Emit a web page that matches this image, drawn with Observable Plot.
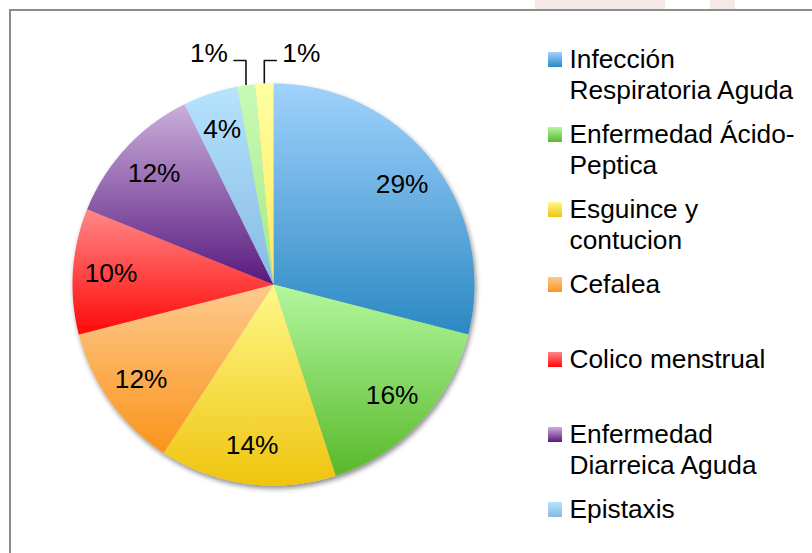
<!DOCTYPE html>
<html><head><meta charset="utf-8">
<script src="https://cdn.jsdelivr.net/npm/d3@7"></script>
<script src="https://cdn.jsdelivr.net/npm/@observablehq/plot@0.6"></script>
<style>
html,body{margin:0;padding:0;background:#fff;}
#wrap{position:relative;width:812px;height:553px;overflow:hidden;background:#fff;}
.wm{position:absolute;top:0;height:9px;background:#f7e8e8;}
#frame{position:absolute;left:9px;top:9px;width:1000px;height:1000px;border-left:2px solid #8c8c8c;border-top:2px solid #8c8c8c;}
#chart{position:absolute;left:0;top:0;}
</style></head><body>
<div id="wrap">
  <div class="wm" style="left:535px;width:130px"></div>
  <div class="wm" style="left:710px;width:25px"></div>
  <div id="frame"></div>
  <div id="chart"></div>
</div>
<script>
// ---- data ----
const categories = ["Infección Respiratoria Aguda","Enfermedad Ácido-Peptica","Esguince y contucion","Cefalea","Colico menstrual","Enfermedad Diarreica Aguda","Epistaxis","Otros","Otros (2)"];
const values = [29.0, 16.0, 14.2, 11.8, 10.1, 11.6, 4.4, 1.45, 1.45];
const legendLabels = ["Infección\nRespiratoria Aguda","Enfermedad Ácido-\nPeptica","Esguince y\ncontucion","Cefalea","Colico menstrual","Enfermedad\nDiarreica Aguda","Epistaxis"];

// ---- styles ----
const gradientColors = [
  ["#a0d2fc","#2b88c3"],
  ["#b2f89e","#59b82a"],
  ["#fff88a","#efc40e"],
  ["#fdca8e","#fb931c"],
  ["#ff8888","#ff0808"],
  ["#cbaedb","#58197e"],
  ["#b6e4fd","#86b9e4"],
  ["#c9fab6","#a3ea88"],
  ["#ffffa0","#ffe95e"]
];

// ---- layout ----
const W = 812, H = 553;
const cx = 273, cy = 284, R = 201;
const fontSize = 26.3;

const total = d3.sum(values);
const arcs = d3.pie().sort(null).value(d => d)(values);

const slicePts = arcs.flatMap((a, i) => {
  const name = categories[i];
  const n = Math.max(2, Math.ceil((a.endAngle - a.startAngle) / 0.008));
  const pts = [{name, x: cx, y: cy}];
  for (let k = 0; k <= n; ++k) {
    const ang = a.startAngle + (a.endAngle - a.startAngle) * k / n;
    pts.push({name, x: cx + R * Math.sin(ang), y: cy - R * Math.cos(ang)});
  }
  pts.push({name, x: cx, y: cy});
  return pts;
});

const pct = v => Math.round(v / total * 100) + "%";

const inside = [], outsideLabels = [], leaders = [];
let outIdx = 0;
arcs.forEach((a, i) => {
  const mid = (a.startAngle + a.endAngle) / 2;
  const share = values[i] / total;
  if (share >= 0.03) {
    inside.push({x: cx + 0.81 * R * Math.sin(mid), y: cy - 0.81 * R * Math.cos(mid), text: pct(values[i])});
  } else {
    const side = outIdx % 2 === 0 ? -1 : 1;
    outIdx++;
    const p0 = {x: cx + (R + 1) * Math.sin(mid), y: cy - (R + 1) * Math.cos(mid)};
    const ey = cy - R - 23;
    const p1 = {x: p0.x, y: ey};
    const p2 = {x: p0.x + side * 12, y: ey};
    leaders.push(...[p0, p1, p2].map(p => ({...p, id: i})));
    outsideLabels.push({x: p2.x + side * 6, y: ey + 1, text: pct(values[i]), anchor: side < 0 ? "end" : "start"});
  }
});

const legendData = legendLabels.map((lab, i) => {
  const n = lab.split("\n").length;
  const top = 52 + 75 * i;
  return {name: categories[i], label: lab, x1: 548, x2: 562, y1: top, y2: top + 15, tx: 569, ty: top + 15 + (n - 1) * 31};
});

const plot = Plot.plot({
  width: W, height: H, margin: 0,
  x: {type: "linear", domain: [0, W], range: [0, W], axis: null},
  y: {type: "linear", domain: [0, H], range: [0, H], axis: null},
  color: {type: "ordinal", domain: categories, range: categories.map((d, i) => `url(#grad${i})`)},
  style: {background: "transparent", fontFamily: "'Liberation Sans', Arial, sans-serif", overflow: "visible"},
  marks: [
    Plot.line(slicePts, {x: "x", y: "y", z: "name", fill: "name", stroke: "none", curve: "linear"}),
    Plot.text(inside, {x: "x", y: "y", text: "text", fontSize, fill: "black", textAnchor: "middle", lineAnchor: "middle"}),
    Plot.line(leaders, {x: "x", y: "y", z: "id", stroke: "#111", strokeWidth: 1.6}),
    Plot.text(outsideLabels.filter(d => d.anchor === "end"), {x: "x", y: "y", text: "text", fontSize, fill: "black", textAnchor: "end", lineAnchor: "bottom"}),
    Plot.text(outsideLabels.filter(d => d.anchor === "start"), {x: "x", y: "y", text: "text", fontSize, fill: "black", textAnchor: "start", lineAnchor: "bottom"}),
    Plot.rect(legendData, {x1: "x1", x2: "x2", y1: "y1", y2: "y2", fill: "name"}),
    Plot.text(legendData, {x: "tx", y: "ty", text: "label", fontSize, fill: "black", textAnchor: "start", lineAnchor: "bottom", lineHeight: 31 / 26.3})
  ]
});

// gradients and shadow
const ns = "http://www.w3.org/2000/svg";
const defs = document.createElementNS(ns, "defs");
gradientColors.forEach(([t, b], i) => {
  const lg = document.createElementNS(ns, "linearGradient");
  lg.setAttribute("id", `grad${i}`);
  lg.setAttribute("x1", "0"); lg.setAttribute("y1", "0");
  lg.setAttribute("x2", "0"); lg.setAttribute("y2", "1");
  [[0, t], [1, b]].forEach(([o, c]) => {
    const s = document.createElementNS(ns, "stop");
    s.setAttribute("offset", o);
    s.setAttribute("stop-color", c);
    lg.appendChild(s);
  });
  defs.appendChild(lg);
});
const filter = document.createElementNS(ns, "filter");
filter.setAttribute("id", "pieShadow");
filter.setAttribute("x", "-10%"); filter.setAttribute("y", "-10%");
filter.setAttribute("width", "125%"); filter.setAttribute("height", "125%");
const fe = document.createElementNS(ns, "feDropShadow");
fe.setAttribute("dx", "1.5"); fe.setAttribute("dy", "3");
fe.setAttribute("stdDeviation", "2.5");
fe.setAttribute("flood-color", "#000"); fe.setAttribute("flood-opacity", "0.45");
filter.appendChild(fe);
defs.appendChild(filter);
plot.insertBefore(defs, plot.firstChild);
const sliceG = plot.querySelector('g[aria-label="line"]');
if (sliceG) sliceG.setAttribute("filter", "url(#pieShadow)");

document.getElementById("chart").appendChild(plot);
</script>
</body></html>
